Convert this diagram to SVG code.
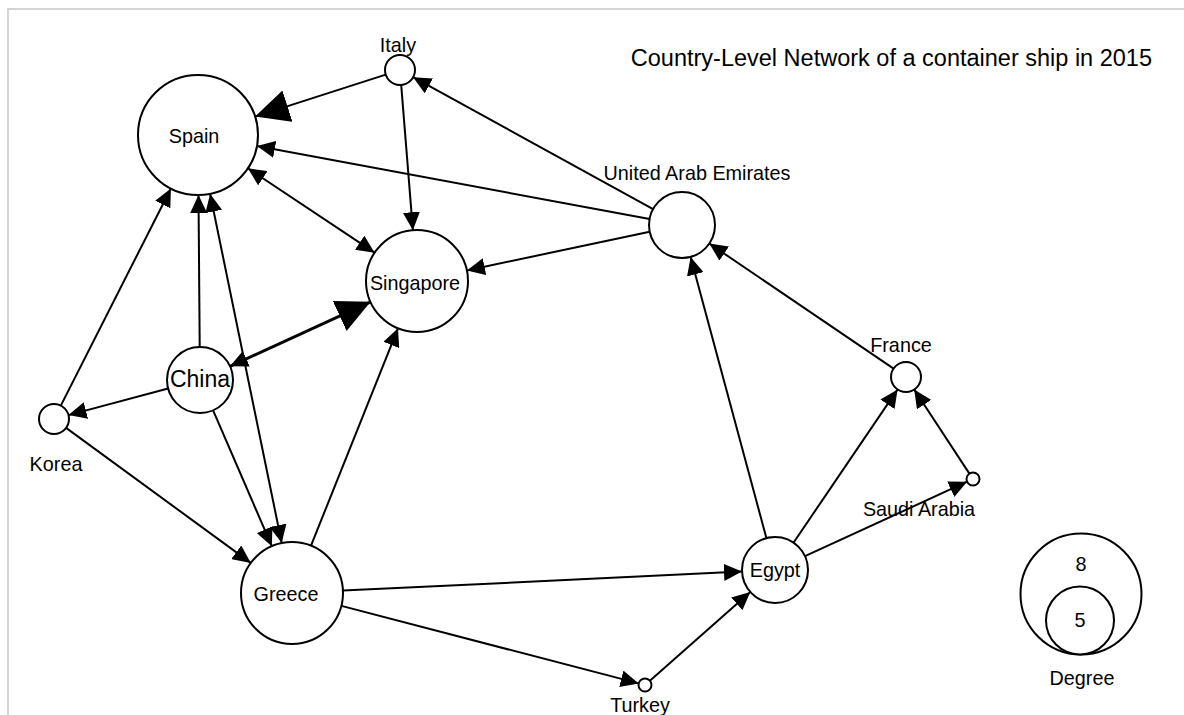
<svg xmlns="http://www.w3.org/2000/svg" width="1184" height="715" viewBox="0 0 1184 715">
<style>
text{font-family:"Liberation Sans",Arial,sans-serif;font-size:19.8px;fill:#000;text-anchor:middle}
.node{fill:#fff;stroke:#000;stroke-width:2}
.e{stroke:#000;stroke-width:2;fill:none;marker-end:url(#a)}
.both{marker-start:url(#a)}
.frame{stroke:#d4d4d4;stroke-width:2;fill:none}
</style>
<defs>
<marker id="a" markerUnits="userSpaceOnUse" markerWidth="18" markerHeight="17" refX="18" refY="8.5" orient="auto-start-reverse" viewBox="0 0 18 17"><path d="M0,0 L18,8.5 L0,17 z" fill="#000"/></marker>
<marker id="b" markerUnits="userSpaceOnUse" markerWidth="34" markerHeight="33" refX="34" refY="16.5" orient="auto-start-reverse" viewBox="0 0 34 33"><path d="M0,0 L34,16.5 L0,33 z" fill="#000"/></marker>
</defs>
<rect width="1184" height="715" fill="#fff"/>
<path class="frame" d="M8,715 L8,9 L1184,9"/>
<text x="1152" y="66" style="font-size:23.5px;text-anchor:end">Country-Level Network of a container ship in 2015</text>
<g id="edges">
<line class="e" x1="385.7" y1="74.6" x2="255.1" y2="116.6" style="marker-end:url(#b)"/>
<line class="e" x1="649.6" y1="219" x2="257" y2="146"/>
<line class="e" x1="653.1" y1="209.1" x2="413.1" y2="77.2"/>
<line class="e" x1="649.7" y1="231.8" x2="466.9" y2="270.4"/>
<line class="e" x1="401.2" y1="85" x2="412.9" y2="230.2"/>
<line class="e both" x1="247.9" y1="168.3" x2="374.6" y2="252.7"/>
<line class="e both" x1="230" y1="366.3" x2="370.6" y2="301.8" style="stroke-width:3;marker-end:url(#b)"/>
<line class="e" x1="199.7" y1="347" x2="198.5" y2="195"/>
<line class="e both" x1="210.1" y1="193.8" x2="281.7" y2="543"/>
<line class="e" x1="60.8" y1="405.6" x2="170.9" y2="188.5"/>
<line class="e" x1="168.1" y1="388.5" x2="68.5" y2="415.1"/>
<line class="e" x1="213.1" y1="410.3" x2="271.8" y2="546.2"/>
<line class="e" x1="66.1" y1="427.9" x2="250.8" y2="562.9"/>
<line class="e" x1="311" y1="545.7" x2="398" y2="328.3"/>
<line class="e" x1="342.9" y1="590.6" x2="742" y2="571.6"/>
<line class="e" x1="341.4" y1="605.9" x2="638.7" y2="683.4"/>
<line class="e" x1="649.9" y1="680.7" x2="750.3" y2="591.9"/>
<line class="e" x1="766.4" y1="538.1" x2="690.6" y2="256.9"/>
<line class="e" x1="793.5" y1="542.7" x2="897.6" y2="389.4"/>
<line class="e" x1="805" y1="556.2" x2="967.1" y2="481.7"/>
<line class="e" x1="969.4" y1="473.6" x2="914.2" y2="389.5"/>
<line class="e" x1="893.6" y1="368.6" x2="709.3" y2="243.5"/>
</g>
<g id="spain"><circle class="node" cx="198" cy="135" r="60"/><text x="194" y="143">Spain</text></g>
<g id="italy"><circle class="node" cx="400" cy="70" r="15"/><text x="398" y="52">Italy</text></g>
<g id="uae"><circle class="node" cx="682" cy="225" r="33"/><text x="697" y="180">United Arab Emirates</text></g>
<g id="singapore"><circle class="node" cx="417" cy="281" r="51"/><text x="415" y="290">Singapore</text></g>
<g id="china"><circle class="node" cx="200" cy="380" r="33"/><text x="200" y="387" style="font-size:23px">China</text></g>
<g id="korea"><circle class="node" cx="54" cy="419" r="15"/><text x="56" y="471">Korea</text></g>
<g id="greece"><circle class="node" cx="292" cy="593" r="51"/><text x="286" y="601">Greece</text></g>
<g id="egypt"><circle class="node" cx="775" cy="570" r="33"/><text x="775" y="577">Egypt</text></g>
<g id="france"><circle class="node" cx="906" cy="377" r="15"/><text x="901" y="352">France</text></g>
<g id="saudi"><circle class="node" cx="973" cy="479" r="6.5"/><text x="919" y="516">Saudi Arabia</text></g>
<g id="turkey"><circle class="node" cx="645" cy="685" r="6.5"/><text x="640" y="712">Turkey</text></g>
<g id="legend">
<circle class="node" cx="1081" cy="594" r="60.5"/>
<circle class="node" cx="1080" cy="620.5" r="34"/>
<text x="1081" y="571">8</text>
<text x="1080" y="627">5</text>
<text x="1082" y="685">Degree</text>
</g>
</svg>
